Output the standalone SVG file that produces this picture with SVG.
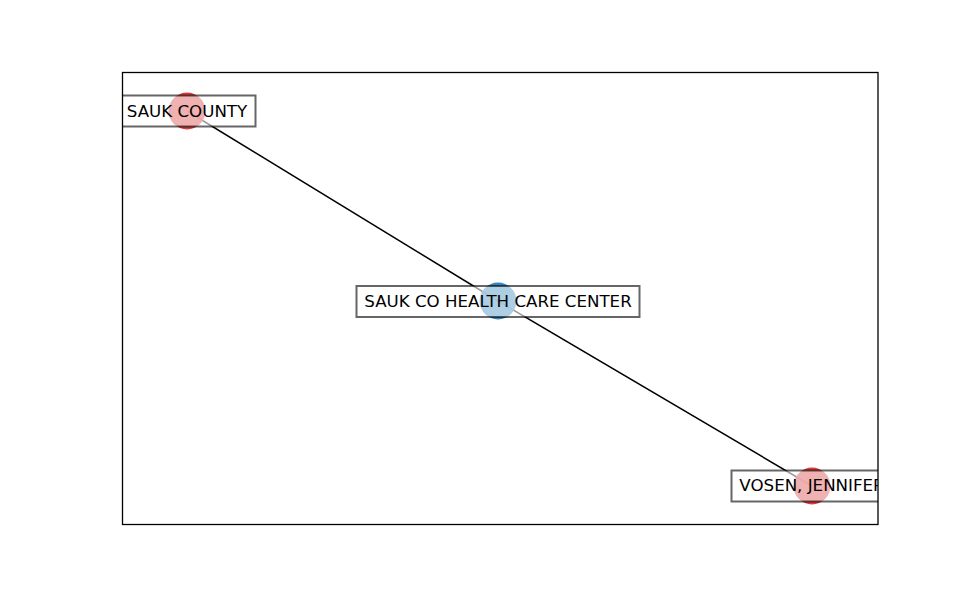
<svg xmlns="http://www.w3.org/2000/svg" width="975" height="600" viewBox="0 0 975 600">
<defs>
<style>
.edge{stroke:#000;stroke-width:1.5;fill:none}
.red{fill:#d62728;opacity:0.9}
.blue{fill:#1f77b4;opacity:0.9}
.box{fill:#fff;fill-opacity:0.6;stroke:#000;stroke-opacity:0.6;stroke-width:2}
.lbl{font-family:"DejaVu Sans",sans-serif;font-size:16.67px;fill:#000;text-anchor:middle}
</style>
<clipPath id="ax"><rect x="122" y="72" width="756" height="453"/></clipPath>
</defs>
<rect width="975" height="600" fill="#fff"/>
<g id="connectors">
<line class="edge" x1="187" y1="111" x2="498" y2="301"/>
<line class="edge" x1="498" y1="301" x2="812" y2="486"/>
</g>
<g id="node-sauk-county">
<circle class="red" cx="187" cy="111" r="18.5"/>
<g clip-path="url(#ax)">
<rect class="box" x="118" y="95.5" width="137.5" height="31"/>
<text class="lbl" x="187" y="116.8">SAUK COUNTY</text>
</g>
</g>
<g id="node-sauk-co-health-care-center">
<circle class="blue" cx="498" cy="301" r="18.5"/>
<g clip-path="url(#ax)">
<rect class="box" x="356.5" y="286" width="283" height="31"/>
<text class="lbl" x="498" y="306.8">SAUK CO HEALTH CARE CENTER</text>
</g>
</g>
<g id="node-vosen-jennifer">
<circle class="red" cx="812" cy="486" r="18.5"/>
<g clip-path="url(#ax)">
<rect class="box" x="731.5" y="470.5" width="161" height="31"/>
<text class="lbl" x="812" y="491.3">VOSEN, JENNIFER</text>
</g>
</g>
<rect x="122.5" y="72.5" width="755.5" height="452" fill="none" stroke="#000" stroke-width="1.3"/>
</svg>
